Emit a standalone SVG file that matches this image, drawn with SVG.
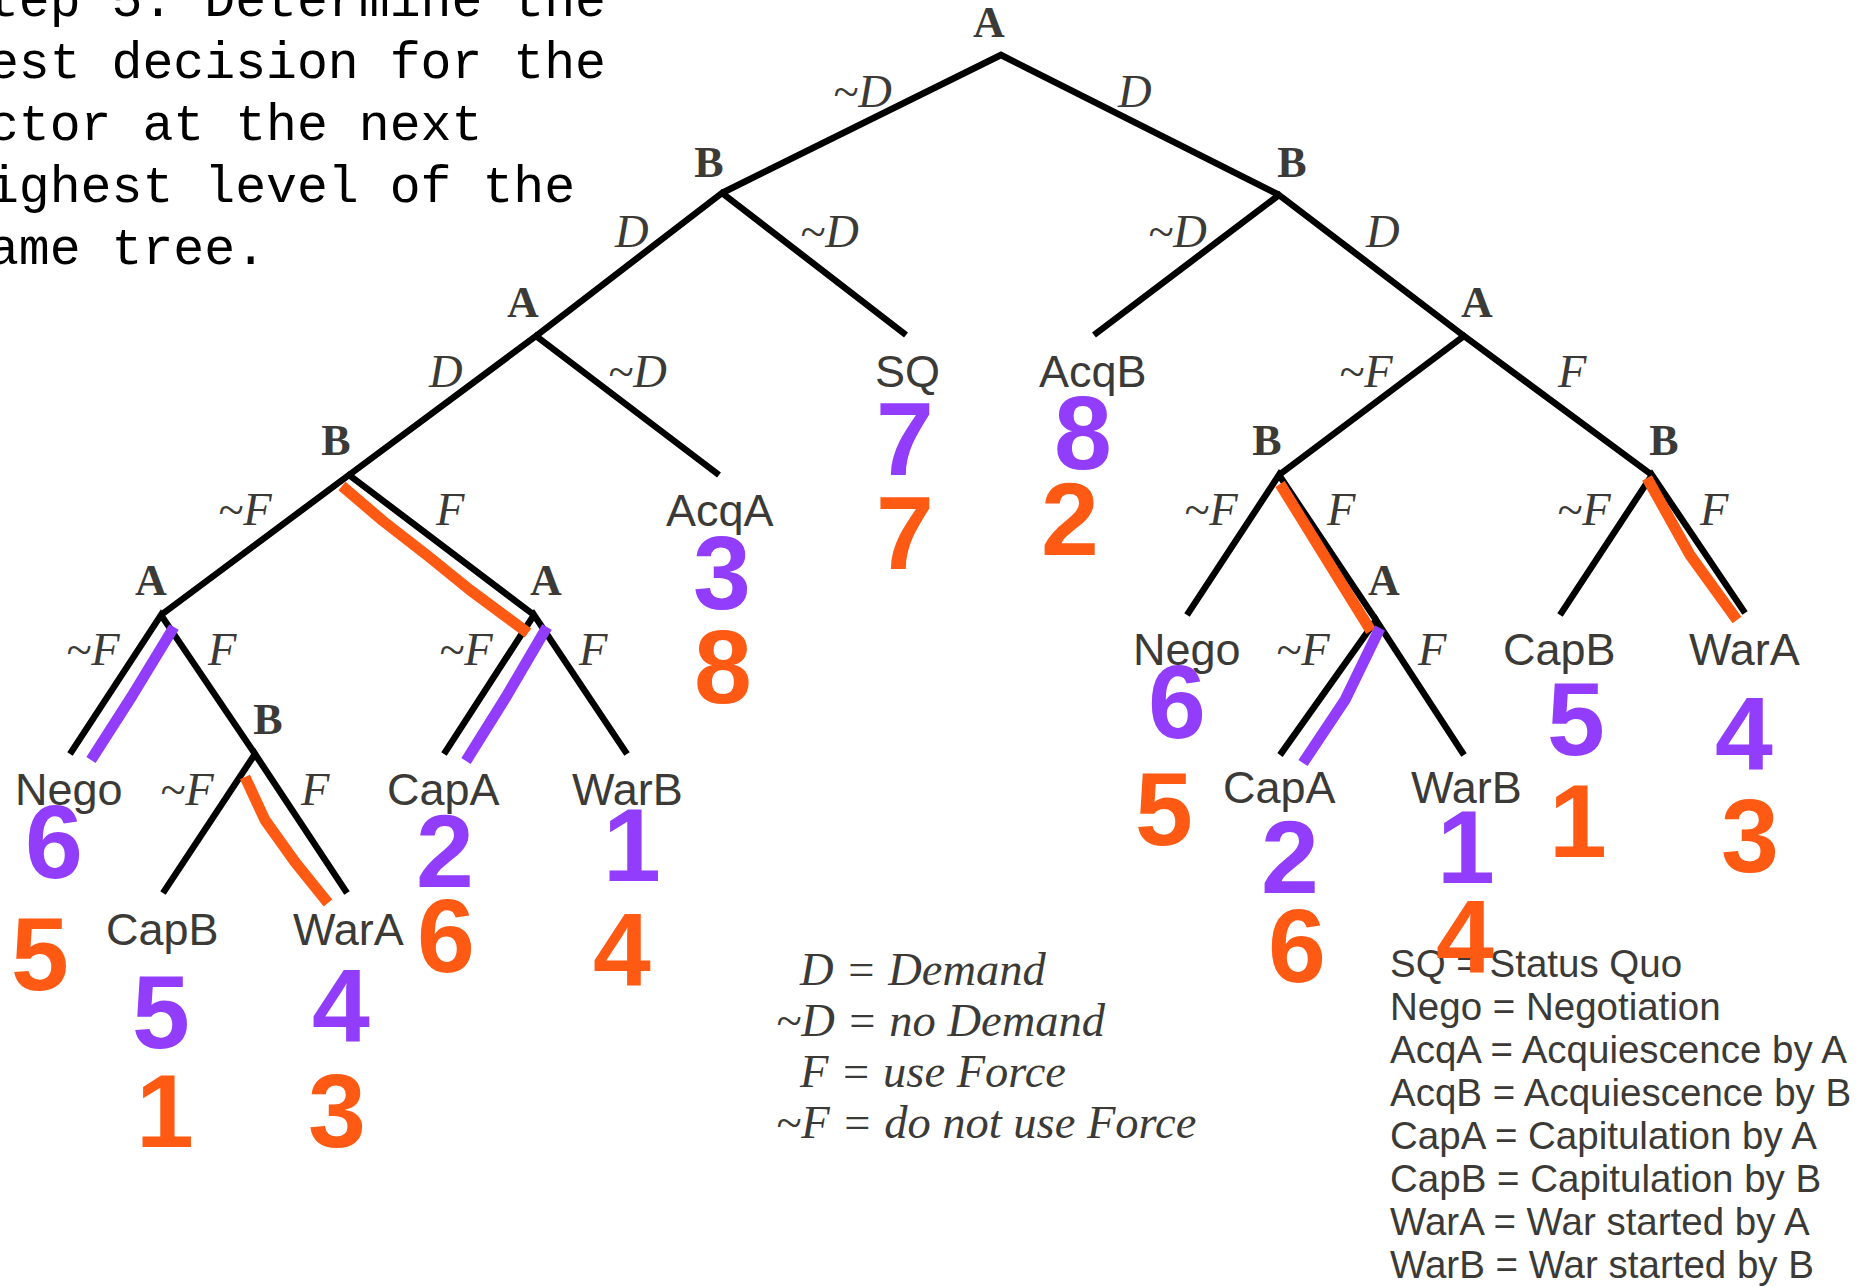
<svg xmlns="http://www.w3.org/2000/svg" width="1872" height="1287" viewBox="0 0 1872 1287">
  <style>
    .edge { fill: none; stroke: #000; stroke-width: 6.5; stroke-linejoin: miter; stroke-miterlimit: 10; stroke-linecap: butt; }
    .hl { fill: none; stroke-width: 11; stroke-linecap: butt; stroke-linejoin: round; }
    .hl-o { stroke: #FF5A14; }
    .hl-p { stroke: #913DFB; }
    .mono { font-family: "Liberation Mono", "Courier New", monospace; font-size: 51.5px; fill: #000; }
    .player { font-family: "Liberation Serif", "Times New Roman", serif; font-weight: bold; font-size: 44px; fill: #3b3a37; text-anchor: middle; }
    .move { font-family: "Liberation Serif", "Times New Roman", serif; font-style: italic; font-size: 46.5px; fill: #3b3a37; }
    .outcome { font-family: "Liberation Sans", Arial, sans-serif; font-size: 45px; fill: #3b3a37; }
    .key { font-family: "Liberation Sans", Arial, sans-serif; font-size: 38.5px; fill: #3b3a37; }
    .pay { font-family: "Liberation Sans", Arial, sans-serif; font-weight: bold; font-size: 104px; text-anchor: middle; }
    .pa { fill: #913DFB; }
    .pb { fill: #FF5A14; }
  </style>

  <!-- step caption -->
  <g id="caption" class="mono">
    <text x="-43" y="16">Step 5. Determine the</text>
    <text x="-43" y="78">best decision for the</text>
    <text x="-43" y="140">actor at the next</text>
    <text x="-43" y="202">highest level of the</text>
    <text x="-43" y="264">game tree.</text>
  </g>

  <!-- tree branches -->
  <g id="connectors">
    <polyline class="edge" points="722,193 1001,55 1279,195"/>
    <polyline class="edge" points="536,336 722,193 906,335"/>
    <polyline class="edge" points="1094,335 1279,195 1464,336"/>
    <polyline class="edge" points="349,475 536,336 719,475"/>
    <polyline class="edge" points="1279,475 1464,336 1652,475"/>
    <polyline class="edge" points="161,615 349,475 534,615"/>
    <polyline class="edge" points="1187,615 1279,475 1376,620"/>
    <polyline class="edge" points="1560,615 1652,475 1745,613"/>
    <polyline class="edge" points="70,754 161,615 255,754"/>
    <polyline class="edge" points="444,754 534,615 627,754"/>
    <polyline class="edge" points="1280,755 1376,620 1464,755"/>
    <polyline class="edge" points="163,893 255,754 347,893"/>
  </g>

  <!-- marked best choices -->
  <g id="choices">
    <path class="hl hl-o" d="M342,486 L383,521 L428,556 L470,590 L528,633"/>
    <path class="hl hl-p" d="M174,627 L132,696 L91,760"/>
    <path class="hl hl-p" d="M547,627 L506,697 L466,761"/>
    <path class="hl hl-o" d="M245,777 L265,820 L295,862 L328,903"/>
    <path class="hl hl-o" d="M1280,484 L1327,560 L1371,631"/>
    <path class="hl hl-p" d="M1380,628 L1345,700 L1303,763"/>
    <path class="hl hl-o" d="M1647,478 L1690,555 L1737,620"/>
  </g>

  <!-- decision nodes -->
  <g id="node-root"><text class="player" x="989" y="37">A</text></g>
  <g id="node-b1"><text class="player" x="709" y="177">B</text></g>
  <g id="node-b2"><text class="player" x="1292" y="177">B</text></g>
  <g id="node-a2"><text class="player" x="523" y="317">A</text></g>
  <g id="node-a3"><text class="player" x="1477" y="317">A</text></g>
  <g id="node-b3"><text class="player" x="336" y="455">B</text></g>
  <g id="node-b4"><text class="player" x="1267" y="455">B</text></g>
  <g id="node-b5"><text class="player" x="1664" y="455">B</text></g>
  <g id="node-a4"><text class="player" x="151" y="595">A</text></g>
  <g id="node-a5"><text class="player" x="546" y="595">A</text></g>
  <g id="node-a6"><text class="player" x="1384" y="595">A</text></g>
  <g id="node-b6"><text class="player" x="268" y="734">B</text></g>

  <!-- move labels -->
  <g id="moves" class="move">
    <text x="833" y="107">~D</text>
    <text x="1118" y="107">D</text>
    <text x="615" y="247">D</text>
    <text x="800" y="247">~D</text>
    <text x="1148" y="247">~D</text>
    <text x="1366" y="247">D</text>
    <text x="429" y="387">D</text>
    <text x="608" y="387">~D</text>
    <text x="1339" y="387">~F</text>
    <text x="1558" y="387">F</text>
    <text x="218" y="525">~F</text>
    <text x="436" y="525">F</text>
    <text x="1184" y="525">~F</text>
    <text x="1327" y="525">F</text>
    <text x="1557" y="525">~F</text>
    <text x="1700" y="525">F</text>
    <text x="66" y="665">~F</text>
    <text x="208" y="665">F</text>
    <text x="439" y="665">~F</text>
    <text x="579" y="665">F</text>
    <text x="1276" y="665">~F</text>
    <text x="1418" y="665">F</text>
    <text x="160" y="805">~F</text>
    <text x="301" y="805">F</text>
  </g>

  <!-- outcomes -->
  <g id="leaf-sq"><text class="outcome" x="875" y="387">SQ</text></g>
  <g id="leaf-acqb"><text class="outcome" x="1039" y="387">AcqB</text></g>
  <g id="leaf-acqa"><text class="outcome" x="666" y="526">AcqA</text></g>
  <g id="leaf-nego-l"><text class="outcome" x="15" y="805">Nego</text></g>
  <g id="leaf-capa-l"><text class="outcome" x="387" y="805">CapA</text></g>
  <g id="leaf-warb-l"><text class="outcome" x="572" y="805">WarB</text></g>
  <g id="leaf-capb-l"><text class="outcome" x="106" y="945">CapB</text></g>
  <g id="leaf-wara-l"><text class="outcome" x="293" y="945">WarA</text></g>
  <g id="leaf-nego-r"><text class="outcome" x="1133" y="665">Nego</text></g>
  <g id="leaf-capb-r"><text class="outcome" x="1503" y="665">CapB</text></g>
  <g id="leaf-wara-r"><text class="outcome" x="1689" y="665">WarA</text></g>
  <g id="leaf-capa-r"><text class="outcome" x="1223" y="803">CapA</text></g>
  <g id="leaf-warb-r"><text class="outcome" x="1411" y="803">WarB</text></g>

  <!-- keys -->
  <g id="move-key" class="move">
    <text x="800" y="985">D = Demand</text>
    <text x="776" y="1036">~D = no Demand</text>
    <text x="800" y="1087">F = use Force</text>
    <text x="776" y="1138">~F = do not use Force</text>
  </g>
  <g id="outcome-key" class="key">
    <text x="1390" y="977">SQ = Status Quo</text>
    <text x="1390" y="1020">Nego = Negotiation</text>
    <text x="1390" y="1063">AcqA = Acquiescence by A</text>
    <text x="1390" y="1106">AcqB = Acquiescence by B</text>
    <text x="1390" y="1149">CapA = Capitulation by A</text>
    <text x="1390" y="1192">CapB = Capitulation by B</text>
    <text x="1390" y="1235">WarA = War started by A</text>
    <text x="1390" y="1278">WarB = War started by B</text>
  </g>

  <!-- payoffs: A's ranking above, B's ranking below -->
  <g id="payoffs" class="pay">
    <text class="pa" x="905" y="475">7</text>
    <text class="pb" x="905" y="569">7</text>
    <text class="pa" x="1083" y="469">8</text>
    <text class="pb" x="1070" y="555">2</text>
    <text class="pa" x="722" y="609">3</text>
    <text class="pb" x="723" y="703">8</text>
    <text class="pa" x="54" y="878">6</text>
    <text class="pb" x="40" y="990">5</text>
    <text class="pa" x="161" y="1048">5</text>
    <text class="pb" x="165" y="1147">1</text>
    <text class="pa" x="341" y="1042">4</text>
    <text class="pb" x="337" y="1147">3</text>
    <text class="pa" x="445" y="887">2</text>
    <text class="pb" x="446" y="972">6</text>
    <text class="pa" x="632" y="881">1</text>
    <text class="pb" x="622" y="986">4</text>
    <text class="pa" x="1177" y="738">6</text>
    <text class="pb" x="1164" y="845">5</text>
    <text class="pa" x="1290" y="893">2</text>
    <text class="pb" x="1297" y="982">6</text>
    <text class="pa" x="1466" y="883">1</text>
    <text class="pb" x="1465" y="973">4</text>
    <text class="pa" x="1576" y="755">5</text>
    <text class="pb" x="1578" y="857">1</text>
    <text class="pa" x="1744" y="770">4</text>
    <text class="pb" x="1750" y="872">3</text>
  </g>
</svg>
